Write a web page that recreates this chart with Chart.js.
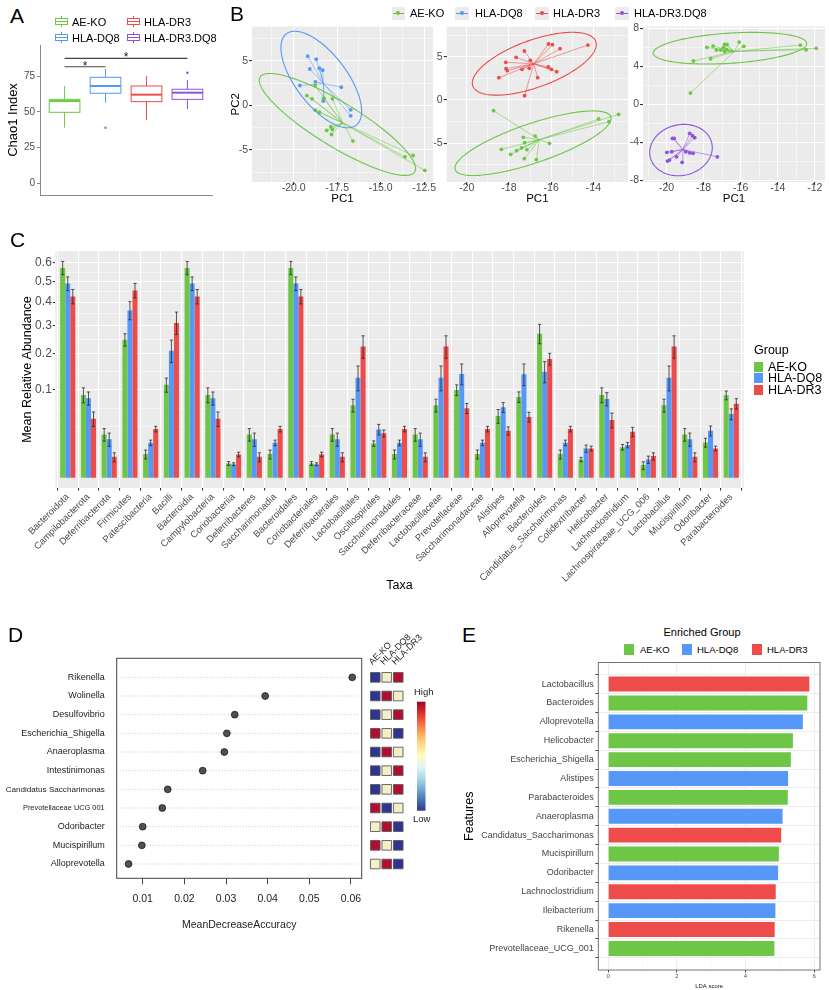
<!DOCTYPE html>
<html>
<head>
<meta charset="utf-8">
<title>Microbiome composite figure</title>
<script src="https://cdn.jsdelivr.net/npm/chart.js@4.4.1/dist/chart.umd.min.js"></script>
<style>
  body { margin: 0; background: #fff; }
  #page { position: relative; width: 829px; height: 990px; overflow: hidden; font-family: "Liberation Sans", Arial, sans-serif; color: #000; }
  #page canvas { position: absolute; }
  .t { position: absolute; white-space: nowrap; line-height: 1; }
</style>
</head>
<body>
<div id="page">
  <canvas id="cA"  width="220" height="162" style="left:0;top:40px"></canvas>
  <canvas id="cB1" width="217" height="186" style="left:220px;top:20px"></canvas>
  <canvas id="cB2" width="198" height="186" style="left:434px;top:20px"></canvas>
  <canvas id="cB3" width="201" height="186" style="left:628px;top:20px"></canvas>
  <canvas id="cC"  width="829" height="355" style="left:0;top:245px"></canvas>
  <canvas id="cD"  width="370" height="290" style="left:0;top:645px"></canvas>
  <canvas id="cH"  width="80"  height="310" style="left:360px;top:625px"></canvas>
  <canvas id="cE"  width="389" height="335" style="left:440px;top:655px"></canvas>
</div>
<script>
// ---------- colours ----------
const GREEN = '#6dc646', BLUE = '#5598f7', RED = '#ee4b4b', PURPLE = '#8f52df';
const groupColor = { 'AE-KO': GREEN, 'HLA-DQ8': BLUE, 'HLA-DR3': RED, 'HLA-DR3.DQ8': PURPLE };

// ---------- A: Chao1 boxplot ----------
const chaoGroups   = ['AE-KO', 'HLA-DQ8', 'HLA-DR3', 'HLA-DR3.DQ8'];
const chaoLow      = [38.9, 56.5, 44.3, 52.0];
const chaoQ1       = [49.7, 63.1, 57.2, 58.8];
const chaoMedian   = [57.6, 68.2, 62.1, 63.5];
const chaoQ3       = [58.8, 74.3, 68.2, 65.9];
const chaoHigh     = [68.2, 80.1, 75.2, 72.4];
const chaoOutliers = [[], [38.9], [], [77.5]];
const chaoTicks    = [0, 25, 50, 75];
const sigFrom  = [1, 1];
const sigTo    = [2, 4];
const sigY     = [81.7, 87.6];
const sigLabel = ['*', '*'];

// ---------- B: PCA ----------
const b1KoX  = [-19.24,-18.94,-18.28,-17.77,-18.75,-18.52,-17.86,-17.77,-18.10,-17.82,-16.59,-13.60,-13.13,-12.46,-18.77];
const b1KoY  = [1.12,0.75,0.79,0.75,-0.53,-0.75,-2.39,-2.70,-2.80,-3.26,-4.00,-5.77,-5.62,-7.30,2.25];
const b1Dq8X = [-19.19,-18.70,-19.07,-18.52,-18.33,-18.75,-19.64,-18.25,-18.30,-17.26,-16.72,-16.72];
const b1Dq8Y = [5.54,5.20,4.10,4.20,3.97,2.66,2.25,0.79,0.50,2.06,-0.49,-1.16];
const b2Dr3X = [-16.13,-15.94,-15.58,-14.26,-17.27,-17.66,-18.15,-16.99,-18.14,-18.08,-17.38,-17.04,-16.14,-15.99,-15.74,-16.64,-18.48,-17.26];
const b2Dr3Y = [6.47,6.39,5.93,6.35,5.66,4.93,4.35,4.58,3.62,3.39,3.54,3.66,3.81,3.54,3.27,2.58,2.58,0.50];
const b2KoX  = [-18.73,-13.75,-13.26,-12.81,-16.76,-17.32,-17.26,-16.08,-18.36,-17.64,-17.41,-17.15,-17.92,-17.27,-16.70];
const b2KoY  = [-1.23,-2.19,-2.50,-1.65,-4.16,-4.31,-4.93,-5.00,-5.70,-5.85,-5.54,-5.74,-6.27,-6.78,-6.89];
const b3KoX  = [-17.82,-17.49,-17.31,-17.08,-16.87,-16.74,-16.92,-16.77,-16.87,-16.08,-15.83,-18.55,-17.62,-12.78,-12.47,-11.92,-18.71];
const b3KoY  = [6.00,6.14,5.72,5.72,6.32,6.32,6.00,5.79,5.54,6.56,6.11,4.56,4.80,6.24,5.75,5.90,1.18];
const b3DdX  = [-19.68,-19.59,-18.75,-18.60,-18.48,-19.98,-19.72,-18.96,-18.75,-18.57,-19.46,-19.95,-19.84,-19.16,-17.26];
const b3DdY  = [-3.60,-3.60,-3.07,-3.32,-3.53,-5.07,-5.01,-5.01,-5.12,-5.18,-5.54,-5.99,-5.89,-6.13,-5.54];
// ellipses: centre x, centre y, conjugate semi-diameters (ux, uy) and (vx, vy)
const b1KoEll  = [-17.48, -2.13, -3.88, 5.73, 2.26, 0];
const b1Dq8Ell = [-18.41,  2.92, -1.52, 5.43, 1.75, 0];
const b2Dr3Ell = [-16.80,  4.19,  1.80, 3.63, 2.32, 0];
const b2KoEll  = [-16.86, -4.99,  2.84, 3.73, 2.37, 0];
const b3KoEll  = [-16.58,  5.91,  1.24, 1.67, 3.95, 0];
const b3DdEll  = [-19.22, -4.83,  0.16, 2.71, 1.68, 0];
const b1XTicks = [-20, -17.5, -15, -12.5], b1XLabels = ['-20.0', '-17.5', '-15.0', '-12.5'], b1XMinor = [-21.25, -18.75, -16.25, -13.75];
const b2XTicks = [-20, -18, -16, -14],     b2XLabels = ['-20', '-18', '-16', '-14'],         b2XMinor = [-19, -17, -15, -13];
const b3XTicks = [-20, -18, -16, -14, -12], b3XLabels = ['-20', '-18', '-16', '-14', '-12'], b3XMinor = [-21, -19, -17, -15, -13];
const b12YTicks = [-5, 0, 5], b12YLabels = ['-5', '0', '5'], b12YMinor = [-7.5, -2.5, 2.5, 7.5];
const b3YTicks = [-8, -4, 0, 4, 8], b3YLabels = ['-8', '-4', '0', '4', '8'], b3YMinor = [-6, -2, 2, 6];

// ---------- C: mean relative abundance ----------
const cTaxa = ['Bacteroidota','Campilobacterota','Deferribacterota','Firmicutes','Patescibacteria','Bacilli','Bacteroidia',
  'Campylobacteria','Coriobacteriia','Deferribacteres','Saccharimonadia','Bacteroidales','Coriobacteriales','Deferribacterales',
  'Lactobacillales','Oscillospirales','Saccharimonadales','Deferribacteraceae','Lactobacillaceae','Prevotellaceae',
  'Saccharimonadaceae','Alistipes','Alloprevotella','Bacteroides','Candidatus_Saccharimonas','Colidextribacter','Helicobacter',
  'Lachnoclostridium','Lachnospiraceae_UCG_006','Lactobacillus','Mucispirillum','Odoribacter','Parabacteroides'];
const cKo  = [0.571,0.0889,0.0244,0.247,0.0073,0.112,0.571,0.0889,0.0027,0.0244,0.0073,0.571,0.0027,0.0244,0.0681,0.0153,0.0073,
  0.0244,0.0681,0.100,0.0073,0.0495,0.0847,0.269,0.0073,0.0044,0.0889,0.0122,0.0021,0.0681,0.0244,0.0162,0.0883];
const cDq8 = [0.489,0.0820,0.0194,0.363,0.0159,0.209,0.489,0.0820,0.0024,0.0194,0.0159,0.489,0.0024,0.0194,0.130,0.0304,0.0159,
  0.0194,0.130,0.140,0.0159,0.0644,0.139,0.146,0.0159,0.0112,0.0805,0.0139,0.0044,0.130,0.0194,0.0287,0.0527];
const cDr3 = [0.426,0.0452,0.0057,0.455,0.0308,0.311,0.426,0.0452,0.0071,0.0057,0.0308,0.426,0.0071,0.0057,0.2234,0.0256,0.0308,
  0.0057,0.2234,0.0626,0.0308,0.0287,0.0479,0.183,0.0308,0.0112,0.0432,0.0275,0.0061,0.2234,0.0057,0.0112,0.0712];
const cKoSe  = [0.036,0.016,0.007,0.022,0.0027,0.017,0.036,0.016,0.0007,0.007,0.0027,0.036,0.0007,0.007,0.012,0.0024,0.0027,
  0.007,0.012,0.012,0.0027,0.011,0.011,0.036,0.0027,0.001,0.016,0.0022,0.0012,0.012,0.007,0.004,0.0094];
const cDq8Se = [0.034,0.0135,0.0065,0.039,0.0025,0.037,0.034,0.0135,0.0005,0.0065,0.0025,0.034,0.0005,0.0065,0.032,0.0066,0.0025,
  0.0065,0.032,0.028,0.0025,0.009,0.029,0.029,0.0025,0.0027,0.0135,0.0023,0.0017,0.032,0.0065,0.006,0.009];
const cDr3Se = [0.034,0.011,0.0024,0.035,0.0035,0.045,0.034,0.011,0.0014,0.0024,0.0035,0.034,0.0014,0.0024,0.038,0.004,0.0035,
  0.0024,0.038,0.009,0.0035,0.005,0.0077,0.018,0.0035,0.0018,0.011,0.0055,0.002,0.038,0.0024,0.0018,0.01];
const cTickVals   = [0.1, 0.2, 0.3, 0.4, 0.5, 0.6];
const cTickLabels = ['0.1', '0.2', '0.3', '0.4', '0.5', '0.6'];
const cGroups = ['AE-KO', 'HLA-DQ8', 'HLA-DR3'];

// ---------- D: random forest importance ----------
const rfNames = ['Rikenella','Wolinella','Desulfovibrio','Escherichia_Shigella','Anaeroplasma','Intestinimonas',
  'Candidatus Saccharimonas','Prevotellaceae UCG 001','Odoribacter','Mucispirillum','Alloprevotella'];
const rfImp = [0.0603, 0.0394, 0.0321, 0.0302, 0.0296, 0.0244, 0.0160, 0.0147, 0.0100, 0.0098, 0.0066];
const rfTicks = [0.01, 0.02, 0.03, 0.04, 0.05, 0.06];
const rfTickLabels = ['0.01', '0.02', '0.03', '0.04', '0.05', '0.06'];
const heatCols = ['AE-KO', 'HLA-DQ8', 'HLA-DR3'];
// 0 = low, 1 = middle, 2 = high (per row, columns AE-KO, HLA-DQ8, HLA-DR3)
const heatLevel = [[0,1,2],[0,2,1],[0,1,2],[2,1,0],[0,2,1],[0,1,2],[0,1,2],[2,0,1],[1,2,0],[2,1,0],[1,2,0]];
const heatColors = ['#2e3590', '#f4efc7', '#b0102e'];

// ---------- E: LDA scores ----------
const ldaNames = ['Lactobacillus','Bacteroides','Alloprevotella','Helicobacter','Escherichia_Shigella','Alistipes',
  'Parabacteroides','Anaeroplasma','Candidatus_Saccharimonas','Mucispirillum','Odoribacter','Lachnoclostridium',
  'Ileibacterium','Rikenella','Prevotellaceae_UCG_001'];
const ldaScore = [5.86, 5.80, 5.67, 5.38, 5.32, 5.24, 5.23, 5.08, 5.04, 4.97, 4.95, 4.88, 4.87, 4.85, 4.84];
const ldaGroup = ['HLA-DR3','AE-KO','HLA-DQ8','AE-KO','AE-KO','HLA-DQ8','AE-KO','HLA-DQ8','HLA-DR3','AE-KO',
  'HLA-DQ8','HLA-DR3','HLA-DQ8','HLA-DR3','AE-KO'];
const ldaTicks = [0, 2, 4, 6], ldaTickLabels = ['0', '2', '4', '6'], ldaMinor = [1, 3, 5];

// ---------- chart defaults & helpers ----------
Chart.defaults.font.family = '"Liberation Sans", Arial, sans-serif';
Chart.defaults.color = '#4d4d4d';
Chart.defaults.animation = false;
Chart.defaults.responsive = false;
Chart.defaults.maintainAspectRatio = false;
Chart.defaults.events = [];
Chart.defaults.plugins.legend.display = false;
Chart.defaults.plugins.tooltip.enabled = false;

function fixW(w) { return s => { s.width = w; s.paddingTop = 0; s.paddingBottom = 0; }; }
function fixH(h) { return s => { s.height = h; s.paddingLeft = 0; s.paddingRight = 0; }; }
function tickList(major, labels, minor) {
  const t = major.map((v, i) => ({ value: v, lab: labels[i] }));
  (minor || []).forEach(v => t.push({ value: v, lab: '', mn: true }));
  return t.sort((a, b) => a.value - b.value);
}
function useTicks(list) { return s => { s.ticks = list.map(t => Object.assign({}, t)); }; }
const labelOf = (v, i, t) => t[i].lab;
const isMinor = c => !!(c.tick && c.tick.mn);
const mean = a => a.reduce((s, v) => s + v, 0) / a.length;
const FONT = '"Liberation Sans", Arial, sans-serif';

// panel background and frame
Chart.register({
  id: 'panel',
  beforeDraw(chart, args, o) {
    if (!o.fill) return;
    const a = chart.chartArea, ctx = chart.ctx;
    ctx.save();
    ctx.fillStyle = o.fill;
    ctx.fillRect(a.left, a.top, a.right - a.left, a.bottom - a.top);
    ctx.restore();
  },
  afterDraw(chart, args, o) {
    if (!o.frame) return;
    const a = chart.chartArea, ctx = chart.ctx;
    ctx.save();
    ctx.strokeStyle = o.frame;
    ctx.lineWidth = o.frameWidth || 1;
    ctx.strokeRect(a.left, a.top, a.right - a.left, a.bottom - a.top);
    ctx.restore();
  }
});

const page = document.getElementById('page');
function addText(txt, x, cy, fs, color) {
  const d = document.createElement('div');
  d.className = 't';
  d.textContent = txt;
  d.style.left = x + 'px';
  d.style.top = (cy - 0.49 * fs) + 'px';
  d.style.fontSize = fs + 'px';
  if (color) d.style.color = color;
  page.appendChild(d);
  return d;
}
function addBox(x, y, w, h, css) {
  const d = document.createElement('div');
  d.style.cssText = `position:absolute;left:${x}px;top:${y}px;width:${w}px;height:${h}px;box-sizing:border-box;` + (css || '');
  page.appendChild(d);
  return d;
}

// panel letters
addText('A', 10, 15, 21);
addText('B', 230, 13, 21);
addText('C', 10, 239, 21);
addText('D', 8, 634, 21);
addText('E', 462, 634, 21);

// ---------- A ----------
const outlierPts = [], outlierCol = [];
chaoOutliers.forEach((list, i) => list.forEach(v => { outlierPts.push({ x: i + 1, y: v }); outlierCol.push(groupColor[chaoGroups[i]]); }));

const boxPlugin = {
  id: 'boxes',
  afterDatasetsDraw(chart) {
    const { ctx, scales: { x, y } } = chart;
    const py = v => y.getPixelForValue(v);
    ctx.save();
    chaoGroups.forEach((g, i) => {
      const c = groupColor[g], cx = x.getPixelForValue(i + 1);
      const hw = x.getPixelForValue(i + 1.375) - cx;
      ctx.strokeStyle = c;
      ctx.lineWidth = 1;
      ctx.beginPath();
      ctx.moveTo(cx, py(chaoHigh[i])); ctx.lineTo(cx, py(chaoQ3[i]));
      ctx.moveTo(cx, py(chaoQ1[i]));   ctx.lineTo(cx, py(chaoLow[i]));
      ctx.stroke();
      ctx.fillStyle = '#fff';
      ctx.fillRect(cx - hw, py(chaoQ3[i]), 2 * hw, py(chaoQ1[i]) - py(chaoQ3[i]));
      ctx.strokeRect(cx - hw, py(chaoQ3[i]), 2 * hw, py(chaoQ1[i]) - py(chaoQ3[i]));
      ctx.lineWidth = 2;
      ctx.beginPath();
      ctx.moveTo(cx - hw, py(chaoMedian[i])); ctx.lineTo(cx + hw, py(chaoMedian[i]));
      ctx.stroke();
    });
    ctx.strokeStyle = '#444';
    ctx.fillStyle = '#222';
    ctx.lineWidth = 1.2;
    ctx.font = '12px ' + FONT;
    ctx.textAlign = 'center';
    sigFrom.forEach((f, k) => {
      const x1 = x.getPixelForValue(f), x2 = x.getPixelForValue(sigTo[k]), yy = py(sigY[k]);
      ctx.beginPath(); ctx.moveTo(x1, yy); ctx.lineTo(x2, yy); ctx.stroke();
      ctx.fillText(sigLabel[k], (x1 + x2) / 2, yy + 3);
    });
    ctx.restore();
  }
};

new Chart(document.getElementById('cA'), {
  type: 'scatter',
  data: { datasets: [{ data: outlierPts, pointRadius: 1.3, pointBackgroundColor: outlierCol, pointBorderWidth: 0 }] },
  options: {
    layout: { padding: { top: 5, right: 8, bottom: 0, left: 0 } },
    scales: {
      x: { type: 'linear', min: 0.4, max: 4.6, afterFit: fixH(7),
           ticks: { display: false }, grid: { display: false, drawTicks: false },
           border: { color: '#8a8a8a', width: 1 } },
      y: { type: 'linear', min: -8.4, max: 97, afterFit: fixW(40),
           afterBuildTicks: useTicks(tickList(chaoTicks, chaoTicks.map(String))),
           ticks: { callback: labelOf, font: { size: 10 }, color: '#4d4d4d', padding: 2 },
           grid: { drawOnChartArea: false, tickLength: 3, tickColor: '#8a8a8a' },
           border: { color: '#8a8a8a', width: 1 },
           title: { display: true, text: 'Chao1 Index', font: { size: 13 }, color: '#000', padding: { top: 6, bottom: 0 } } }
    }
  },
  plugins: [boxPlugin]
});

// A legend
const legAPos = [[55, 16], [55, 32], [127, 16], [127, 32]];
chaoGroups.forEach((g, i) => {
  const [lx, ly] = legAPos[i], c = groupColor[g];
  addBox(lx + 6, ly, 1, 11, 'background:' + c);
  addBox(lx, ly + 2, 13, 7, 'background:#fff;border:1px solid ' + c);
  addBox(lx + 1, ly + 5, 11, 1, 'background:' + c);
  addText(g, lx + 17, ly + 6, 11);
});

// ---------- B ----------
function spokes(xs, ys) {
  const cx = mean(xs), cy = mean(ys), d = [];
  xs.forEach((x, i) => d.push({ x: x, y: ys[i] }, { x: cx, y: cy }, { x: null, y: null }));
  return d;
}
function ellipsePlugin(groups) {
  return {
    id: 'ellipses',
    afterDatasetsDraw(chart) {
      const { ctx, chartArea: a, scales: { x, y } } = chart;
      ctx.save();
      ctx.beginPath(); ctx.rect(a.left, a.top, a.right - a.left, a.bottom - a.top); ctx.clip();
      groups.forEach(g => {
        const [cx, cy, ux, uy, vx, vy] = g.ell;
        ctx.beginPath();
        for (let k = 0; k <= 180; k++) {
          const t = k / 180 * 2 * Math.PI;
          const px = x.getPixelForValue(cx + ux * Math.cos(t) + vx * Math.sin(t));
          const pyy = y.getPixelForValue(cy + uy * Math.cos(t) + vy * Math.sin(t));
          if (k) ctx.lineTo(px, pyy); else ctx.moveTo(px, pyy);
        }
        ctx.strokeStyle = g.color;
        ctx.lineWidth = 1.1;
        ctx.stroke();
      });
      ctx.restore();
    }
  };
}
function pcaChart(id, groups, o) {
  const datasets = [];
  groups.forEach(g => {
    datasets.push({ data: spokes(g.x, g.y), showLine: true, borderColor: g.color + '99', borderWidth: 0.9, pointRadius: 0, order: 2 });
    datasets.push({ data: g.x.map((v, i) => ({ x: v, y: g.y[i] })), pointRadius: 1.9, pointBackgroundColor: g.color, pointBorderWidth: 0, order: 1 });
  });
  const gridOpts = {
    color: '#fff',
    lineWidth: c => isMinor(c) ? 0.5 : 1.1,
    tickLength: 3,
    tickColor: c => isMinor(c) ? 'rgba(0,0,0,0)' : '#333'
  };
  return new Chart(document.getElementById(id), {
    type: 'scatter',
    data: { datasets },
    options: {
      layout: { padding: { top: 6.5, right: o.pr, bottom: 0, left: 0 } },
      plugins: { panel: { fill: '#ebebeb' } },
      scales: {
        x: { type: 'linear', min: o.xr[0], max: o.xr[1], afterFit: fixH(24),
             afterBuildTicks: useTicks(o.xt),
             ticks: { callback: labelOf, font: { size: 10.5 }, color: '#4d4d4d', padding: -3, maxRotation: 0, autoSkip: false },
             grid: gridOpts, border: { display: false },
             title: { display: true, text: 'PC1', font: { size: 11.5 }, color: '#000', padding: { top: 0, bottom: 0 } } },
        y: { type: 'linear', min: o.yr[0], max: o.yr[1], afterFit: fixW(o.yw),
             afterBuildTicks: useTicks(o.yt),
             ticks: { callback: labelOf, font: { size: 10.5 }, color: '#4d4d4d', padding: 1, autoSkip: false },
             grid: gridOpts, border: { display: false },
             title: { display: !!o.yTitle, text: 'PC2', font: { size: 11.5 }, color: '#000', padding: { top: 9, bottom: 0 } } }
      }
    },
    plugins: [ellipsePlugin(groups)]
  });
}

pcaChart('cB1', [
  { x: b1KoX, y: b1KoY, ell: b1KoEll, color: GREEN },
  { x: b1Dq8X, y: b1Dq8Y, ell: b1Dq8Ell, color: BLUE }
], { pr: 2, yw: 32, yTitle: true, xr: [-22.39, -11.99], yr: [-8.6, 8.88],
     xt: tickList(b1XTicks, b1XLabels, b1XMinor), yt: tickList(b12YTicks, b12YLabels, b12YMinor) });
pcaChart('cB2', [
  { x: b2KoX, y: b2KoY, ell: b2KoEll, color: GREEN },
  { x: b2Dr3X, y: b2Dr3Y, ell: b2Dr3Ell, color: RED }
], { pr: 2, yw: 12.7, xr: [-20.95, -12.36], yr: [-9.47, 8.49],
     xt: tickList(b2XTicks, b2XLabels, b2XMinor), yt: tickList(b12YTicks, b12YLabels, b12YMinor) });
pcaChart('cB3', [
  { x: b3KoX, y: b3KoY, ell: b3KoEll, color: GREEN },
  { x: b3DdX, y: b3DdY, ell: b3DdEll, color: PURPLE }
], { pr: 3, yw: 15, xr: [-21.27, -11.45], yr: [-8.2, 8.2],
     xt: tickList(b3XTicks, b3XLabels, b3XMinor), yt: tickList(b3YTicks, b3YLabels, b3YMinor) });

// B legend
const legBX = [391.7, 455, 535, 615], legBText = [410, 475, 553, 634];
chaoGroups.forEach((g, i) => {
  const c = groupColor[g];
  addBox(legBX[i], 6.5, 13.5, 13.5, 'background:#ebebeb');
  addBox(legBX[i] + 1, 12.75, 11.5, 1, 'background:' + c);
  addBox(legBX[i] + 4.75, 11.25, 4, 4, 'background:' + c + ';border-radius:50%');
  addText(g, legBText[i], 13.5, 11);
});

// ---------- C ----------
const sq = v => Math.sqrt(Math.max(v, 0));
const cMajorSq = cTickVals.map(sq);
const cStep = cMajorSq[1] - cMajorSq[0];
const cExt = [cMajorSq[0] - cStep].concat(cMajorSq);
const cMinorSq = [cExt[0]];
for (let i = 0; i < cExt.length - 1; i++) cMinorSq.push((cExt[i] + cExt[i + 1]) / 2);

const errPlugin = {
  id: 'errbars',
  afterDatasetsDraw(chart) {
    const { ctx, scales: { y } } = chart;
    ctx.save();
    ctx.strokeStyle = '#2b2b2b';
    ctx.lineWidth = 0.8;
    chart.data.datasets.forEach((ds, di) => {
      chart.getDatasetMeta(di).data.forEach((bar, i) => {
        const v = ds.raw[i], e = ds.se[i];
        const yt = y.getPixelForValue(sq(v + e)), yb = y.getPixelForValue(sq(v - e));
        const x = bar.x, w = 1.6;
        ctx.beginPath();
        ctx.moveTo(x, yt); ctx.lineTo(x, yb);
        ctx.moveTo(x - w, yt); ctx.lineTo(x + w, yt);
        ctx.moveTo(x - w, yb); ctx.lineTo(x + w, yb);
        ctx.stroke();
      });
    });
    ctx.restore();
  }
};

const cSeries = [cKo, cDq8, cDr3], cSe = [cKoSe, cDq8Se, cDr3Se];
new Chart(document.getElementById('cC'), {
  type: 'bar',
  data: {
    datasets: cGroups.map((g, k) => ({
      label: g,
      data: cSeries[k].map((v, i) => ({ x: i, y: sq(v) })),
      raw: cSeries[k], se: cSe[k],
      backgroundColor: groupColor[g], borderWidth: 0,
      barPercentage: 1, categoryPercentage: 0.73
    }))
  },
  options: {
    layout: { padding: { top: 6, right: 85.3, bottom: 5, left: 0 } },
    plugins: { panel: { fill: '#ebebeb' } },
    scales: {
      x: { type: 'linear', min: -0.6, max: cTaxa.length - 0.4, offset: false, afterFit: fixH(107),
           afterBuildTicks: useTicks(tickList(cTaxa.map((t, i) => i), cTaxa)),
           ticks: { callback: labelOf, font: { size: 9.5 }, color: '#4d4d4d', padding: 1, minRotation: 45, maxRotation: 45, autoSkip: false },
           grid: { color: '#fff', lineWidth: 1.1, tickLength: 2.5, tickColor: '#333' }, border: { display: false },
           title: { display: true, text: 'Taxa', font: { size: 12.5 }, color: '#000', padding: { top: 0, bottom: 1.5 } } },
      y: { type: 'linear', min: -0.0367, max: 0.8167, afterFit: fixW(55.3),
           afterBuildTicks: useTicks(tickList(cMajorSq, cTickLabels, cMinorSq)),
           ticks: { callback: labelOf, font: { size: 12 }, color: '#4d4d4d', padding: 1, autoSkip: false },
           grid: { color: '#fff', lineWidth: c => isMinor(c) ? 0.5 : 1.1, tickLength: 2.5,
                   tickColor: c => isMinor(c) ? 'rgba(0,0,0,0)' : '#333' },
           border: { display: false },
           title: { display: true, text: 'Mean Relative Abundance', font: { size: 12.5 }, color: '#000', padding: { top: 20.5, bottom: 0 } } }
    }
  },
  plugins: [errPlugin]
});

// C legend
addText('Group', 754, 350.5, 12.5);
cGroups.forEach((g, k) => {
  addBox(754, 361.7 + k * 11.7, 9, 10, 'background:' + groupColor[g]);
  addText(g, 768, 366.7 + k * 11.7, 12.5);
});

// ---------- D ----------
const rfRowVal = i => rfNames.length - i;
const rfLabelSize = rfNames.map(n => n.length > 20 ? (n.length > 22 ? 8.1 : 7.4) : 9);
const rowLines = {
  id: 'rowlines',
  beforeDatasetsDraw(chart) {
    const { ctx, chartArea: a, scales: { y } } = chart;
    ctx.save();
    ctx.strokeStyle = '#b5b5b5';
    ctx.lineWidth = 0.8;
    ctx.setLineDash([1, 2]);
    rfNames.forEach((n, i) => {
      const yy = y.getPixelForValue(rfRowVal(i));
      ctx.beginPath(); ctx.moveTo(a.left + 3, yy); ctx.lineTo(a.right - 3, yy); ctx.stroke();
    });
    ctx.restore();
  }
};
const rfRows = rfNames.map((n, i) => rfRowVal(i));
new Chart(document.getElementById('cD'), {
  type: 'scatter',
  data: { datasets: [{ data: rfImp.map((v, i) => ({ x: v, y: rfRowVal(i) })), pointRadius: 3.4,
                       pointBackgroundColor: '#505050', pointBorderColor: '#1e1e1e', pointBorderWidth: 0.8 }] },
  options: {
    layout: { padding: { top: 13.3, right: 8.3, bottom: 0, left: 0 } },
    plugins: { panel: { frame: '#444', frameWidth: 1 } },
    scales: {
      x: { type: 'linear', min: 0.00376, max: 0.06257, afterFit: fixH(56.7),
           afterBuildTicks: useTicks(tickList(rfTicks, rfTickLabels)),
           ticks: { callback: labelOf, font: { size: 10.5 }, color: '#222', padding: 8.4, maxRotation: 0, autoSkip: false },
           grid: { drawOnChartArea: false, tickLength: 6, tickColor: '#444' }, border: { display: false },
           title: { display: true, text: 'MeanDecreaseAccuracy', font: { size: 10.5 }, color: '#222', padding: { top: 0, bottom: 3.7 } } },
      y: { type: 'linear', min: 0.234, max: 12.02, afterFit: fixW(116.7),
           afterBuildTicks: useTicks(tickList(rfRows, rfNames)),
           ticks: { callback: labelOf, color: '#222', padding: 12, autoSkip: false,
                    font: c => ({ size: c.tick ? rfLabelSize[rfNames.indexOf(c.tick.lab)] : 9 }) },
           grid: { display: false, drawTicks: false }, border: { display: false } }
    }
  },
  plugins: [rowLines]
});

// heatmap of group levels + colour key (canvas top is page y 625)
const heatPts = [], heatFill = [];
heatLevel.forEach((row, i) => row.forEach((lv, j) => { heatPts.push({ x: j + 1, y: rfRowVal(i) }); heatFill.push(heatColors[lv]); }));
const heatDecor = {
  id: 'heatdecor',
  afterDraw(chart) {
    const { ctx, chartArea: a, scales: { x } } = chart;
    ctx.save();
    // rotated column headers
    ctx.fillStyle = '#222';
    ctx.font = '9px ' + FONT;
    ctx.textAlign = 'left';
    ctx.textBaseline = 'alphabetic';
    heatCols.forEach((h, j) => {
      ctx.save();
      ctx.translate(x.getPixelForValue(j + 1) - 3, a.top + 7);
      ctx.rotate(-Math.PI / 4);
      ctx.fillText(h, 0, 0);
      ctx.restore();
    });
    // colour key
    const x0 = 57, y0 = 76.7, w = 8.5, h = 109;
    const grad = ctx.createLinearGradient(0, y0, 0, y0 + h);
    ['#a50026','#d73027','#f46d43','#fdae61','#fee090','#ffffbf','#e0f3f8','#abd9e9','#74add1','#4575b4','#313695']
      .forEach((c, i, arr) => grad.addColorStop(i / (arr.length - 1), c));
    ctx.fillStyle = grad;
    ctx.fillRect(x0, y0, w, h);
    ctx.fillStyle = '#222';
    ctx.font = '9.5px ' + FONT;
    ctx.textBaseline = 'middle';
    ctx.fillText('High', 54, 67.5);
    ctx.fillText('Low', 53, 194);
    ctx.restore();
  }
};
new Chart(document.getElementById('cH'), {
  type: 'scatter',
  data: { datasets: [{ data: heatPts, pointStyle: 'rect', pointRadius: 6.8, pointBackgroundColor: heatFill,
                       pointBorderColor: '#5a5a5a', pointBorderWidth: 0.9 }] },
  options: {
    layout: { padding: { top: 33.3, right: 36, bottom: 56.7, left: 9.5 } },
    scales: {
      x: { type: 'linear', min: 0.5, max: 3.5, display: false },
      y: { type: 'linear', min: 0.234, max: 12.02, display: false }
    }
  },
  plugins: [heatDecor]
});

// ---------- E ----------
new Chart(document.getElementById('cE'), {
  type: 'bar',
  data: {
    datasets: [{
      data: ldaScore.map((v, i) => ({ x: v, y: i })),
      backgroundColor: ldaGroup.map(g => groupColor[g]),
      borderWidth: 0, barPercentage: 0.79, categoryPercentage: 1
    }]
  },
  options: {
    indexAxis: 'y',
    layout: { padding: { top: 7.5, right: 9, bottom: 0, left: 0 } },
    plugins: { panel: { frame: '#666', frameWidth: 0.9 } },
    scales: {
      x: { type: 'linear', min: -0.29, max: 6.17, afterFit: fixH(20),
           afterBuildTicks: useTicks(tickList(ldaTicks, ldaTickLabels, ldaMinor)),
           ticks: { callback: labelOf, font: { size: 6 }, color: '#555', padding: 0.6, maxRotation: 0, autoSkip: false },
           grid: { color: c => isMinor(c) ? '#f4f4f4' : '#ebebeb', lineWidth: c => isMinor(c) ? 0.5 : 0.9,
                   tickLength: 2.5, tickColor: c => isMinor(c) ? 'rgba(0,0,0,0)' : '#333' },
           border: { display: false },
           title: { display: true, text: 'LDA score', font: { size: 6 }, color: '#222', padding: { top: 0, bottom: 0.4 } } },
      y: { type: 'linear', reverse: true, min: -0.6, max: ldaNames.length - 0.4, afterFit: fixW(158.3),
           afterBuildTicks: useTicks(tickList(ldaNames.map((n, i) => i), ldaNames)),
           ticks: { callback: labelOf, font: { size: 9 }, color: '#444', padding: 1.5, autoSkip: false },
           grid: { color: '#ebebeb', lineWidth: 0.9, tickLength: 3, tickColor: '#333' },
           border: { display: false },
           title: { display: true, text: 'Features', font: { size: 12.5 }, color: '#000', padding: { top: 22.5, bottom: 0 } } }
    }
  }
});

// E legend
const eTitle = addText('Enriched Group', 640, 632, 11);
eTitle.style.width = '124px';
eTitle.style.textAlign = 'center';
const legEBox = [624.3, 681.7, 751.7], legEText = [640, 697, 767];
cGroups.forEach((g, k) => {
  addBox(legEBox[k], 643.5, 10, 11.5, 'background:' + groupColor[g]);
  addText(g, legEText[k], 649.3, 9.5);
});
</script>
</body>
</html>
